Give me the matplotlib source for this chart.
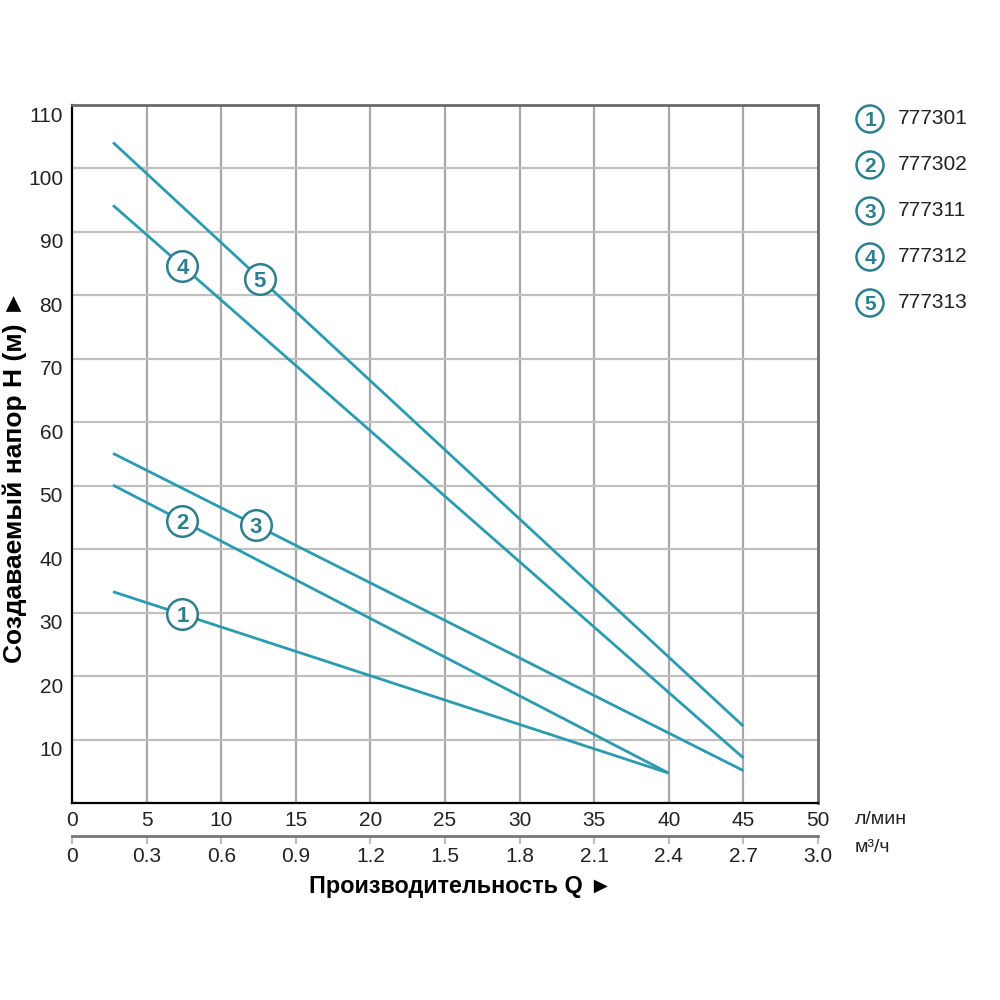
import numpy as np
import matplotlib.pyplot as plt
import matplotlib.transforms as mtransforms
from matplotlib.patches import Circle

plt.rcParams['font.family'] = ['Liberation Sans', 'DejaVu Sans']

# Curves: flow Q (l/min) -> head H (m)
models = ['777301', '777302', '777311', '777312', '777313']
q_start = [2.75, 2.75, 2.75, 2.75, 2.75]
q_end = [40, 40, 45, 45, 45]
h_start = [33.3, 50.1, 55.1, 94.2, 104.1]
h_end = [4.7, 4.7, 5.1, 7.1, 12.1]
# where the numbered badge sits on each curve
badge_q = [7.4, 7.4, 12.3, 7.4, 12.6]

x_ticks = [0, 5, 10, 15, 20, 25, 30, 35, 40, 45, 50]
y_ticks = [10, 20, 30, 40, 50, 60, 70, 80, 90, 100, 110]
m3_ticks = [0, 0.3, 0.6, 0.9, 1.2, 1.5, 1.8, 2.1, 2.4, 2.7, 3.0]

line_color = '#2a9bb0'
badge_color = '#2b7f8e'
text_color = '#222222'

fig = plt.figure(figsize=(10, 10), dpi=100)
ax = fig.add_axes([0.072, 0.197, 0.746, 0.698])
ax.set_xlim(0, 50)
ax.set_ylim(0, 110)

# grid
for x in x_ticks[1:-1]:
    ax.axvline(x, color='#a8a8a8', lw=1.6, zorder=1)
for y in y_ticks[:-1]:
    ax.axhline(y, color='#c0c0c0', lw=1.6, zorder=1)

for s in ['left', 'bottom']:
    ax.spines[s].set_color('black')
    ax.spines[s].set_linewidth(1.6)
for s in ['top', 'right']:
    ax.spines[s].set_color('#6a6a6a')
    ax.spines[s].set_linewidth(2.0)

ax.set_xticks(x_ticks)
ax.set_xticklabels([str(v) for v in x_ticks])
ax.tick_params(axis='both', length=0, labelsize=15, colors=text_color)
ax.tick_params(axis='x', pad=6)
ax.set_yticks([])

# y labels sit a little below their grid lines in the original
ylab_trans = ax.get_yaxis_transform() + mtransforms.ScaledTranslation(
    -9 / 100, -11 / 100, fig.dpi_scale_trans)
for v in y_ticks:
    ax.text(0, v, str(v), transform=ylab_trans, ha='right', va='center',
            fontsize=15, color=text_color)

# curves
for i in range(len(models)):
    ax.plot([q_start[i], q_end[i]], [h_start[i], h_end[i]],
            color=line_color, lw=2.0, zorder=3, solid_capstyle='butt')
    bq = badge_q[i]
    bh = np.interp(bq, [q_start[i], q_end[i]], [h_start[i], h_end[i]])
    ax.plot(bq, bh, marker='o', ms=22, mfc='white', mec=badge_color,
            mew=1.8, zorder=4)
    ax.text(bq, bh, str(i + 1), ha='center', va='center_baseline',
            fontsize=16, fontweight='bold', color=badge_color, zorder=5)

# second scale in m3/h
sec = ax.secondary_xaxis(-0.047, functions=(lambda q: q * 0.06, lambda m: m / 0.06))
sec.set_xticks(m3_ticks)
sec.set_xticklabels(['0'] + ['%.1f' % v for v in m3_ticks[1:]])
sec.spines['bottom'].set_color('#777777')
sec.spines['bottom'].set_linewidth(2.0)
sec.tick_params(axis='x', direction='out', length=6, width=1.5, color='#bbbbbb',
                labelsize=15, labelcolor=text_color, pad=2)

fig.text(0.855, 0.181, 'л/мин', fontsize=14, color=text_color, va='center')
fig.text(0.855, 0.152, 'м³/ч', fontsize=14, color=text_color, va='center')

fig.text(0.461, 0.114, 'Производительность Q ►', fontsize=16.8, fontweight='bold',
         ha='center', va='center')
fig.text(0.015, 0.524, 'Создаваемый напор H (м) ►', fontsize=19, fontweight='bold',
         ha='center', va='center', rotation=90)

# legend
for i, name in enumerate(models):
    yc = 1 - (0.119 + i * 0.046)
    fig.add_artist(Circle((0.870, yc), 0.0135, transform=fig.transFigure,
                          facecolor='white', edgecolor=badge_color, lw=1.8))
    fig.text(0.870, yc, str(i + 1), ha='center', va='center_baseline', fontsize=15,
             fontweight='bold', color=badge_color)
    fig.text(0.898, yc, name, ha='left', va='center', fontsize=15, color=text_color)

fig.savefig('out.png', dpi=100)
